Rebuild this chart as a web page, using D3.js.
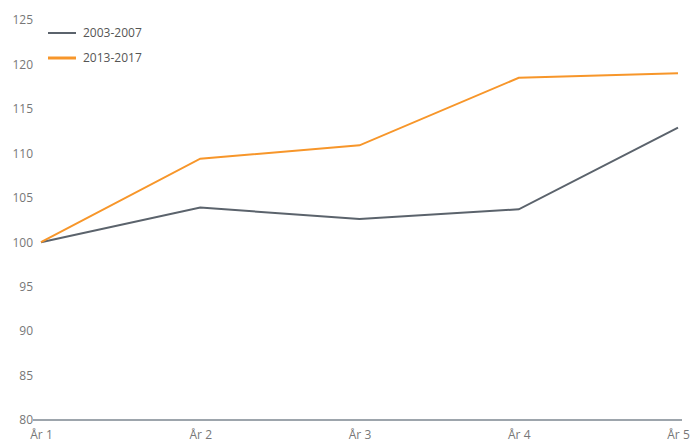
<!DOCTYPE html>
<html>
<head>
<meta charset="utf-8">
<script src="https://cdn.jsdelivr.net/npm/d3@7"></script>
<style>
  body { margin: 0; background: #fff; }
  text { font-family: "Open Sans", "DejaVu Sans", sans-serif; }
</style>
</head>
<body>
<div id="chart"></div>
<script>
// Data
var categories = ["År 1", "År 2", "År 3", "År 4", "År 5"];
var series1 = [100, 103.9, 102.6, 103.7, 112.9];   // 2003-2007
var series2 = [100, 109.4, 110.9, 118.5, 119.0];   // 2013-2017
var seriesNames = ["2003-2007", "2013-2017"];
var yTicks = [80, 85, 90, 95, 100, 105, 110, 115, 120, 125];

var colors = ["#5b636c", "#f7962a"];

// dimensions
var margin = {left:41, right:15, top:20, bottom:24},
    width = 693 - margin.left - margin.right,
    height = 444 - margin.top - margin.bottom;

var svg = d3.select("#chart").append("svg")
    .attr("width", 693)
    .attr("height", 444);

var g = svg.append("g")
    .attr("transform", "translate(" + margin.left + "," + margin.top + ")");

var x = d3.scalePoint().domain(categories).range([0, width]);
var y = d3.scaleLinear().domain([80, 125]).range([height, 0]);

// y axis labels (no axis line)
var yAxis = g.append("g")
    .call(d3.axisLeft(y).tickValues(yTicks).tickSize(0).tickPadding(8));
yAxis.select(".domain").remove();
yAxis.selectAll("text").attr("fill", "#777").style("font-size", "12px");

// x axis
var xAxis = g.append("g")
    .attr("transform", "translate(0," + height + ")")
    .call(d3.axisBottom(x).tickSize(0).tickPadding(10));
xAxis.select(".domain").attr("stroke", "#7d8790").attr("stroke-width", 1.5)
    .attr("d", "M-8,0H" + (width + 4));
xAxis.selectAll("text").attr("fill", "#777").style("font-size", "12px");

// lines
var line = d3.line()
    .x(function(d, i){ return x(categories[i]); })
    .y(function(d){ return y(d); });

[series1, series2].forEach(function(s, i) {
    g.append("path")
        .datum(s)
        .attr("fill", "none")
        .attr("stroke", colors[i])
        .attr("stroke-width", 2)
        .attr("d", line);
});

// legend
var legend = svg.append("g").attr("transform", "translate(48,33)");
seriesNames.forEach(function(n, i) {
    var row = legend.append("g").attr("transform", "translate(0," + (i * 25) + ")");
    row.append("line")
        .attr("x1", 0).attr("x2", 28)
        .attr("stroke", colors[i])
        .attr("stroke-width", i == 1 ? 3 : 2);
    row.append("text")
        .attr("x", 35).attr("dy", "0.35em")
        .attr("fill", "#555")
        .style("font-size", "12px")
        .text(n);
});
</script>
</body>
</html>
